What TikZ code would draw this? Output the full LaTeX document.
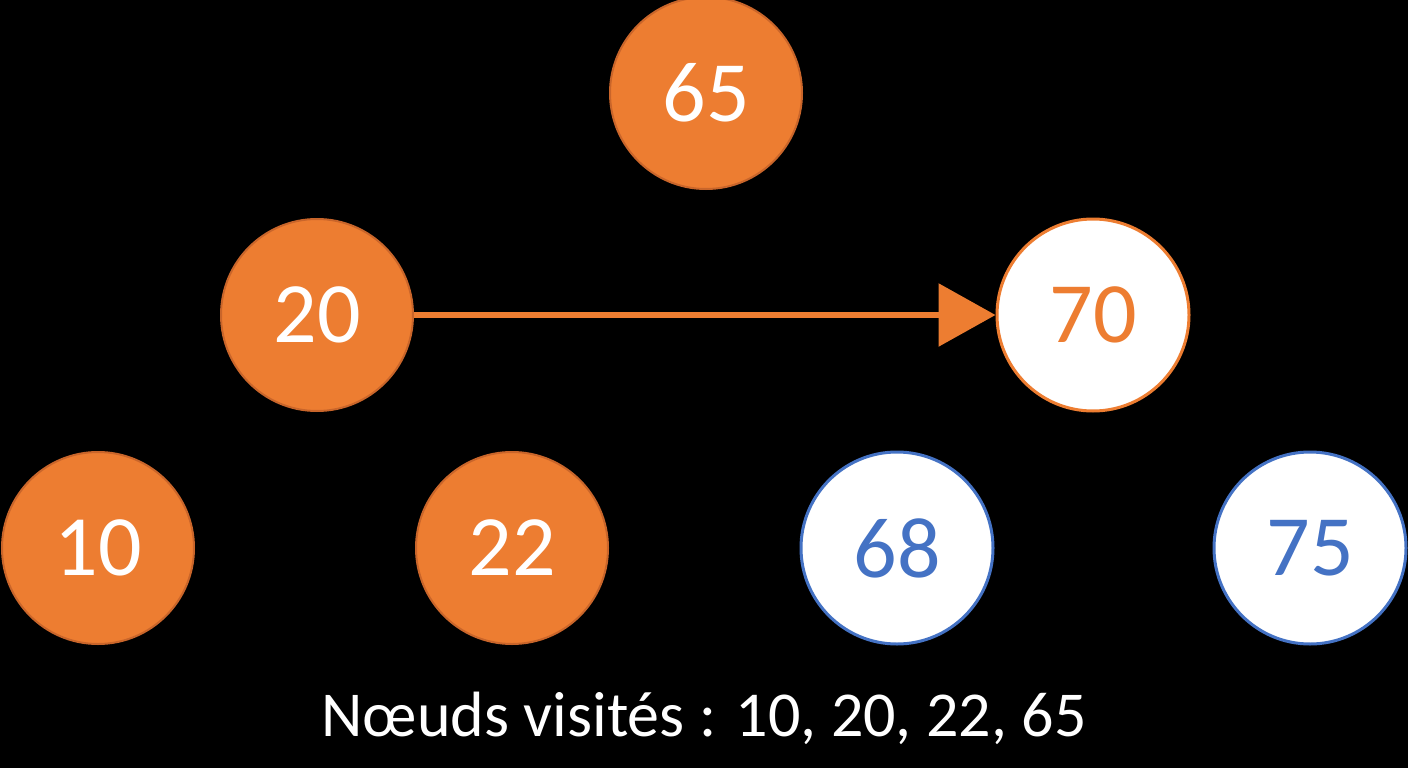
\documentclass[tikz,border=0pt]{standalone}
\usepackage{fontspec}
\setmainfont{Carlito}
\usetikzlibrary{arrows.meta}
\definecolor{orng}{HTML}{ED7D31}
\definecolor{orngd}{HTML}{C9652A}
\definecolor{blu}{HTML}{4472C4}
\tikzset{
  visited/.style={circle, minimum size=192pt, inner sep=0pt, fill=orng, draw=orngd, line width=2pt, text=white, font=\fontsize{86}{86}\selectfont},
  current/.style={circle, minimum size=192pt, inner sep=0pt, fill=white, draw=orng, line width=3pt, text=orng, font=\fontsize{86}{86}\selectfont},
  unvisited/.style={circle, minimum size=192pt, inner sep=0pt, fill=white, draw=blu, line width=3pt, text=blu, font=\fontsize{86}{86}\selectfont},
  link/.style={draw=orng, line width=6pt, -{Triangle[length=57pt,width=62pt]}}
}
\begin{document}
\begin{tikzpicture}[x=1pt,y=-1pt]
\fill[black] (0,0) rectangle (1408,768);
\useasboundingbox (0,0) rectangle (1408,768);
\node[visited] (n65) at (706,93) {65};
\node[visited] (n20) at (317,315) {20};
\node[current] (n70) at (1093,315) {70};
\node[visited] (n10) at (98,548) {10};
\node[visited] (n22) at (512,548) {22};
\node[unvisited] (n68) at (897,548) {68};
\node[unvisited] (n75) at (1310,548) {75};
\draw[link] (n20) -- (n70);
\node[text=white, font=\fontsize{64}{64}\selectfont] (lbl) at (704,718) {Nœuds visités : 10, 20, 22, 65};
\end{tikzpicture}
\end{document}
